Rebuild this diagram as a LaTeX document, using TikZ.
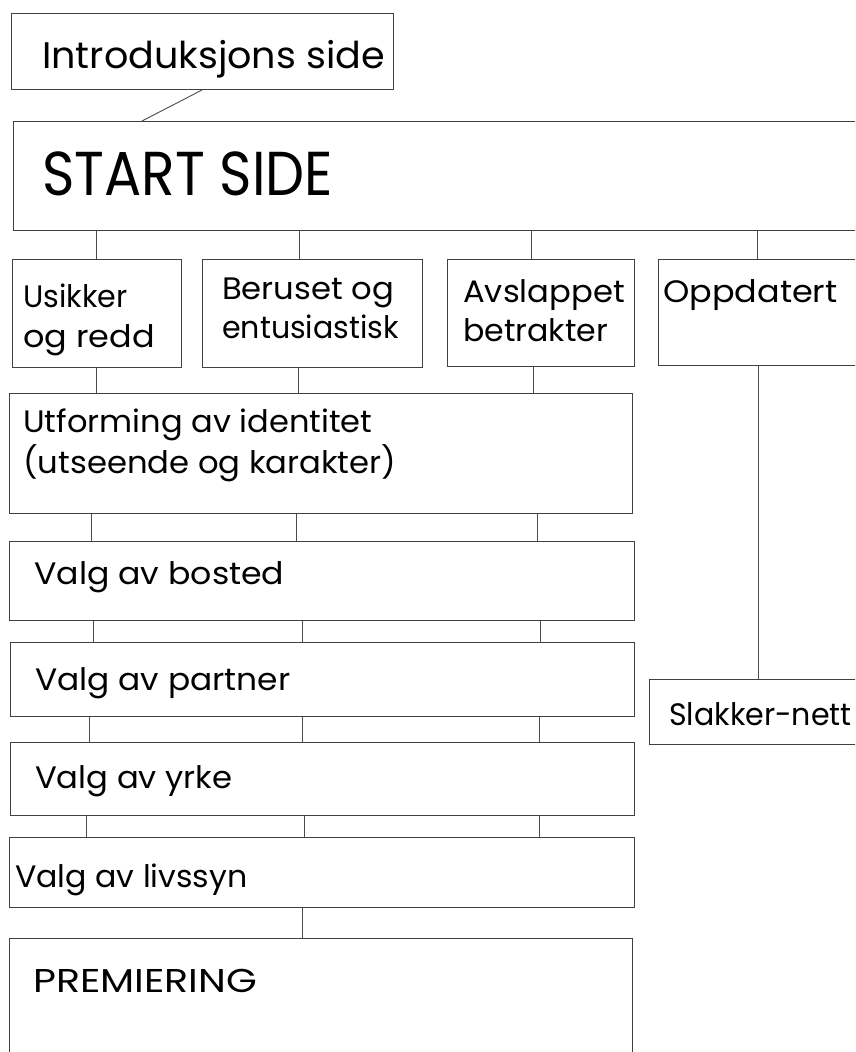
\documentclass[tikz,border=0pt]{standalone}
\usepackage{graphicx}
\usepackage{fontspec}
\setmainfont{Poppins}
\newcommand{\hsx}[2]{\scalebox{#1}[1]{#2}}
\begin{document}
\begin{tikzpicture}[x=1pt,y=-1pt,
  box/.style={draw=black!75, line width=1pt, rectangle, inner sep=0pt, anchor=north west},
  conn/.style={draw=black!70, line width=0.9pt},
  txt/.style={anchor=base west, inner sep=0pt, font=\fontsize{31}{38}\selectfont},
  bigtxt/.style={anchor=base west, inner sep=0pt, font=\fontsize{37}{44}\selectfont},
  hugetxt/.style={anchor=base west, inner sep=0pt, font=\fontsize{62}{70}\selectfont}]
\useasboundingbox (0,0) rectangle (855,1052);
\clip (0,0) rectangle (855,1052);
\fill[white] (0,0) rectangle (855,1052);
% boxes
\node[box, minimum width=382pt, minimum height=76pt] (intro) at (11,13) {};
\node[box, minimum width=900pt, minimum height=109pt] (start) at (13,121) {};
\node[box, minimum width=169pt, minimum height=108pt] (usikker) at (12,259) {};
\node[box, minimum width=220pt, minimum height=108pt] (beruset) at (202,259) {};
\node[box, minimum width=187pt, minimum height=107pt] (avslappet) at (447,259) {};
\node[box, minimum width=300pt, minimum height=106pt] (oppdatert) at (658,259) {};
\node[box, minimum width=623pt, minimum height=120pt] (utforming) at (9,393) {};
\node[box, minimum width=625pt, minimum height=79pt] (bosted) at (9,541) {};
\node[box, minimum width=624pt, minimum height=74pt] (partner) at (10,642) {};
\node[box, minimum width=624pt, minimum height=73pt] (yrke) at (10,742) {};
\node[box, minimum width=625pt, minimum height=70pt] (livssyn) at (9,837) {};
\node[box, minimum width=623pt, minimum height=200pt] (premiering) at (9,938) {};
\node[box, minimum width=300pt, minimum height=65pt] (slakker) at (649,679) {};
% texts
\node[bigtxt] (t-intro) at (42,68) {\hsx{1.03}{Introduksjons side}};
\node[hugetxt] (t-start) at (42,195) {\hsx{0.89}{START SIDE}};
\node[txt] (t-us1) at (23,307) {\hsx{0.97}{Usikker}};
\node[txt] (t-us2) at (23,347) {\hsx{1.08}{og redd}};
\node[txt] (t-be1) at (222,299) {\hsx{1.04}{Beruset og}};
\node[txt] (t-be2) at (222,338) {\hsx{0.97}{entusiastisk}};
\node[txt] (t-av1) at (463,302) {\hsx{1.04}{Avslappet}};
\node[txt] (t-av2) at (463,341) {\hsx{1.02}{betrakter}};
\node[txt] (t-op) at (663,302) {\hsx{1.08}{Oppdatert}};
\node[txt] (t-ut1) at (23,432) {\hsx{1.035}{Utforming av identitet}};
\node[txt] (t-ut2) at (23,473) {\hsx{1.04}{(utseende og karakter)}};
\node[txt] (t-bo) at (34,584) {\hsx{1.07}{Valg av bosted}};
\node[txt] (t-pa) at (35,690) {\hsx{1.06}{Valg av partner}};
\node[txt] (t-yr) at (35,788) {\hsx{1.04}{Valg av yrke}};
\node[txt] (t-li) at (15,887) {\hsx{1.02}{Valg av livssyn}};
\node[txt, font=\fontsize{33}{38}\selectfont] (t-pr) at (33,992) {\hsx{1.2}{PREMIERING}};
\node[txt] (t-sl) at (669,725) {\hsx{0.97}{Slakker-nett}};
% connectors
\draw[conn] (202,0 |- intro.south) -- (142,0 |- start.north);
\draw[conn] (96,0 |- start.south) -- (96,0 |- usikker.north);
\draw[conn] (299,0 |- start.south) -- (299,0 |- beruset.north);
\draw[conn] (531,0 |- start.south) -- (531,0 |- avslappet.north);
\draw[conn] (757,0 |- start.south) -- (757,0 |- oppdatert.north);
\draw[conn] (96,0 |- usikker.south) -- (96,0 |- utforming.north);
\draw[conn] (298,0 |- beruset.south) -- (298,0 |- utforming.north);
\draw[conn] (533,0 |- avslappet.south) -- (533,0 |- utforming.north);
\draw[conn] (758,0 |- oppdatert.south) -- (758,0 |- slakker.north);
\draw[conn] (91,0 |- utforming.south) -- (91,0 |- bosted.north);
\draw[conn] (296,0 |- utforming.south) -- (296,0 |- bosted.north);
\draw[conn] (537,0 |- utforming.south) -- (537,0 |- bosted.north);
\draw[conn] (93,0 |- bosted.south) -- (93,0 |- partner.north);
\draw[conn] (302,0 |- bosted.south) -- (302,0 |- partner.north);
\draw[conn] (540,0 |- bosted.south) -- (540,0 |- partner.north);
\draw[conn] (89,0 |- partner.south) -- (89,0 |- yrke.north);
\draw[conn] (302,0 |- partner.south) -- (302,0 |- yrke.north);
\draw[conn] (539,0 |- partner.south) -- (539,0 |- yrke.north);
\draw[conn] (86,0 |- yrke.south) -- (86,0 |- livssyn.north);
\draw[conn] (304,0 |- yrke.south) -- (304,0 |- livssyn.north);
\draw[conn] (539,0 |- yrke.south) -- (539,0 |- livssyn.north);
\draw[conn] (302,0 |- livssyn.south) -- (302,0 |- premiering.north);
\end{tikzpicture}
\end{document}
